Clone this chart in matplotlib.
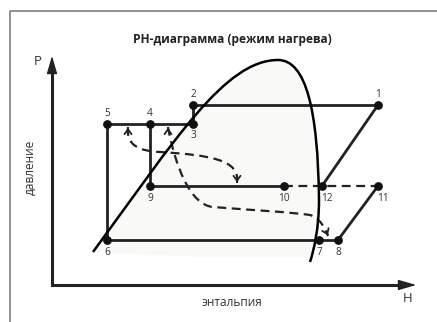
import numpy as np
import matplotlib
matplotlib.use("Agg")
import matplotlib.pyplot as plt
from matplotlib.path import Path
from matplotlib.patches import PathPatch, Rectangle

plt.rcParams['font.family'] = ['Open Sans', 'DejaVu Sans']

# cycle points (pixel coords, y downward)
pt_names = ["1", "2", "3", "4", "5", "6", "7", "8", "9", "10", "11", "12"]
pt_x = [378, 193, 193, 150, 107, 107, 319, 338, 150, 284, 378, 322]
pt_y = [105, 105, 124, 124, 124, 240, 240, 240, 186, 186, 186, 186]
# label offsets
lab_dx = [0, 0, 0, 0, 0, 0, 0, 0, 0, 0, 5, 5]
lab_dy = [-11, -11, 11, -11, -11, 12, 12, 12, 12, 12, 12, 12]

solid_segs = [("2", "1"), ("2", "3"), ("5", "3"), ("5", "6"), ("4", "9"),
              ("9", "10"), ("6", "8"), ("1", "12"), ("11", "8")]
dashed_segs = [("10", "11")]

# saturation dome (bezier control points)
dome_pts = [(93, 252), (175, 140), (225, 60), (278, 60),
            (306, 60), (318, 110), (319, 200),
            (319, 228), (314, 250), (310, 262)]

# dashed flow curves (bezier control points)
flow1 = [(128, 127), (126, 146), (140, 151), (160, 152),
         (210, 155), (240, 160), (237, 182)]
flow2 = [(168, 127), (175, 165), (190, 205), (213, 207),
         (250, 210), (290, 212), (310, 215),
         (320, 218), (325, 228), (328, 236)]

pos = {n: (x, y) for n, x, y in zip(pt_names, pt_x, pt_y)}

fig = plt.figure(figsize=(4.37, 3.22), dpi=100)
ax = fig.add_axes([0, 0, 1, 1])
ax.set_xlim(0, 437)
ax.set_ylim(322, 0)
ax.axis('off')

# frame
ax.plot([10, 10, 437], [322, 11, 11], color='#8a8a8a', lw=1.3, solid_capstyle='butt')

def bez(pts):
    codes = [Path.MOVETO] + [Path.CURVE4] * (len(pts) - 1)
    return Path(pts, codes)

# dome fill
fill = PathPatch(bez(dome_pts), facecolor='#f9f9f7', edgecolor='none', zorder=0)
ax.add_patch(fill)
clip = Rectangle((0, 0), 437, 257, transform=ax.transData)
fill.set_clip_path(clip)

dome = PathPatch(bez(dome_pts), facecolor='none', edgecolor='black', lw=1.8, zorder=3)
ax.add_patch(dome)

# axes arrows
ax.plot([52, 52], [285, 66], color='#222222', lw=2.2, zorder=2)
ax.plot([52, 406], [285, 285], color='#222222', lw=2.2, zorder=2)
ax.annotate("", xy=(52, 53), xytext=(52, 70),
            arrowprops=dict(arrowstyle='-|>,head_length=1.1,head_width=0.32', color='#222222', lw=1))
ax.annotate("", xy=(419, 285), xytext=(402, 285),
            arrowprops=dict(arrowstyle='-|>,head_length=1.1,head_width=0.32', color='#222222', lw=1))

for a, b in solid_segs:
    ax.plot([pos[a][0], pos[b][0]], [pos[a][1], pos[b][1]], color='#222222', lw=2, zorder=2)
for a, b in dashed_segs:
    ax.plot([pos[a][0], pos[b][0]], [pos[a][1], pos[b][1]], color='#222222', lw=1.6,
            linestyle=(0, (4, 2.5)), zorder=2)

for fl in (flow1, flow2):
    ax.add_patch(PathPatch(bez(fl), facecolor='none', edgecolor='#222222', lw=1.6,
                           linestyle=(0, (4, 2.5)), zorder=2))

# small chevrons at the flow ends
arr = dict(arrowstyle='->,head_length=0.35,head_width=0.25', color='#222222', lw=1.3)
ax.annotate("", xy=(128, 125), xytext=(128, 131), arrowprops=arr, zorder=4)
ax.annotate("", xy=(168, 125), xytext=(168, 131), arrowprops=arr, zorder=4)
ax.annotate("", xy=(237, 185), xytext=(237, 179), arrowprops=arr, zorder=4)
ax.annotate("", xy=(329, 238), xytext=(326, 231), arrowprops=arr, zorder=4)

ax.scatter(pt_x, pt_y, s=28, color='#111111', zorder=5)
for n, x, y, dx, dy in zip(pt_names, pt_x, pt_y, lab_dx, lab_dy):
    ax.text(x + dx, y + dy, n, ha='center', va='center', fontsize=7.3, color='#333333', zorder=6)

ax.text(232, 39, "PH-диаграмма (режим нагрева)", ha='center', va='center',
        fontsize=8.6, fontweight='bold', color='#222222')
ax.text(38, 61, "P", ha='center', va='center', fontsize=9.5, color='#333333')
ax.text(408, 298, "H", ha='center', va='center', fontsize=9.5, color='#333333')
ax.text(30, 167, "давление", ha='center', va='center', rotation=90, fontsize=8.6, color='#333333')
ax.text(232, 302, "энтальпия", ha='center', va='center', fontsize=8.6, color='#333333')

fig.savefig("out.png", dpi=100)
